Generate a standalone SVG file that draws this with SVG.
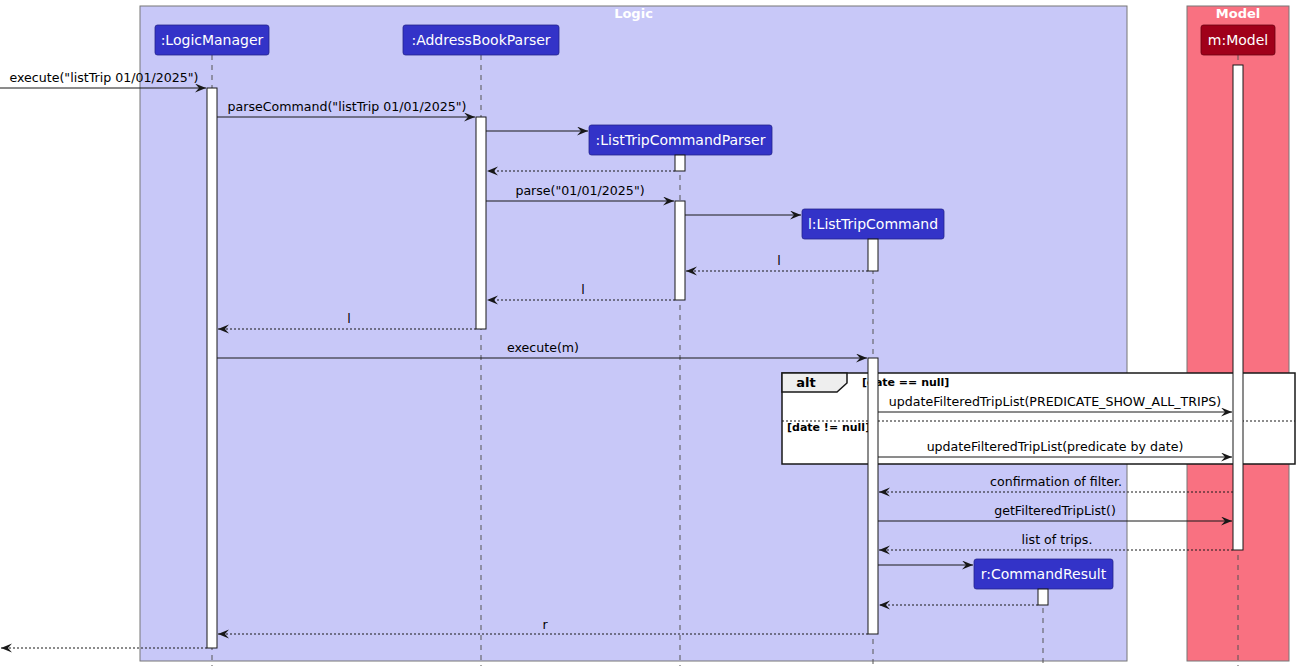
<svg xmlns="http://www.w3.org/2000/svg" width="1301" height="672" viewBox="0 0 1301 672">
<style>
text{font-family:"DejaVu Sans","Liberation Sans",sans-serif;}
.boxt{font-size:13px;font-weight:bold;fill:#ffffff;text-anchor:middle;}
.pbox{fill:#3333C8;stroke:#23238a;stroke-width:0.8;}
.ptxt{font-size:14px;fill:#ffffff;text-anchor:middle;}
.life{stroke:#555555;stroke-width:1;stroke-dasharray:5,5;fill:none;}
.act{fill:#ffffff;stroke:#181818;stroke-width:1;}
.msg{stroke:#181818;stroke-width:1;fill:none;marker-end:url(#ah);}
.ret{stroke:#181818;stroke-width:1;fill:none;stroke-dasharray:2,2;marker-end:url(#ah);}
.mt{font-size:12.6px;fill:#000000;text-anchor:middle;}
.gl{font-size:11px;font-weight:bold;fill:#000000;}
</style>
<defs>
<marker id="ah" markerUnits="userSpaceOnUse" markerWidth="12" markerHeight="10" refX="11" refY="4.5" orient="auto">
<path d="M0,0 L11,4.5 L0,9 L4,4.5 Z" fill="#181818"/>
</marker>
</defs>
<g id="box-logic">
<rect x="140" y="6" width="987" height="655" fill="#C8C8F8" stroke="#777777" stroke-width="1"/>
<text class="boxt" x="633.5" y="18">Logic</text>
</g>
<g id="box-model">
<rect x="1187" y="6" width="102" height="655" fill="#F97181" stroke="#777777" stroke-width="1"/>
<text class="boxt" x="1238" y="18">Model</text>
</g>
<g id="lifelines">
<line class="life" x1="212" y1="55" x2="212" y2="666"/>
<line class="life" x1="481" y1="55" x2="481" y2="666"/>
<line class="life" x1="680" y1="155" x2="680" y2="666"/>
<line class="life" x1="873" y1="239" x2="873" y2="666"/>
<line class="life" x1="1043" y1="588" x2="1043" y2="666"/>
<line class="life" x1="1238" y1="55" x2="1238" y2="666"/>
</g>
<g id="frame-alt">
<rect x="782" y="373" width="513" height="91" fill="#ffffff" stroke="#181818" stroke-width="1.5"/>
<path d="M782,373 L847,373 L847,383 L837,392 L782,392 Z" fill="#EEEEEE" stroke="#181818" stroke-width="1.5"/>
<text x="806" y="387" font-size="13" font-weight="bold" text-anchor="middle" fill="#000">alt</text>
<text class="gl" x="862" y="386">[date == null]</text>
<line x1="782" y1="421" x2="1295" y2="421" stroke="#181818" stroke-width="1" stroke-dasharray="2,2"/>
<text class="gl" x="787" y="431">[date != null]</text>
</g>
<g id="p-logicmanager">
<rect class="pbox" x="155" y="25" width="114" height="30" rx="2.5"/>
<text class="ptxt" x="212" y="45">:LogicManager</text>
</g>
<g id="p-addressbookparser">
<rect class="pbox" x="403" y="25" width="156" height="30" rx="2.5"/>
<text class="ptxt" x="481" y="45">:AddressBookParser</text>
</g>
<g id="p-listtripcommandparser">
<rect class="pbox" x="589" y="125" width="183" height="30" rx="2.5"/>
<text class="ptxt" x="680.5" y="145">:ListTripCommandParser</text>
</g>
<g id="p-listtripcommand">
<rect class="pbox" x="802" y="209" width="142" height="30" rx="2.5"/>
<text class="ptxt" x="873" y="229">l:ListTripCommand</text>
</g>
<g id="p-commandresult">
<rect class="pbox" x="974" y="559" width="139" height="30" rx="2.5"/>
<text class="ptxt" x="1043.5" y="579">r:CommandResult</text>
</g>
<g id="p-model">
<rect x="1201" y="25" width="74" height="30" rx="2.5" fill="#A0001A" stroke="#6a0010" stroke-width="0.8"/>
<text class="ptxt" x="1238" y="45">m:Model</text>
</g>
<g id="activations">
<rect class="act" x="207" y="88" width="10" height="560"/>
<rect class="act" x="476" y="117" width="10" height="212"/>
<rect class="act" x="675" y="155" width="10" height="16"/>
<rect class="act" x="675" y="201" width="10" height="99"/>
<rect class="act" x="868" y="239" width="10" height="32"/>
<rect class="act" x="868" y="358" width="10" height="276"/>
<rect class="act" x="1038" y="589" width="10" height="16"/>
<rect class="act" x="1233" y="65" width="10" height="485"/>
</g>
<g id="connectors">
<line class="msg" x1="0" y1="88" x2="206" y2="88"/>
<text class="mt" x="104" y="82">execute("listTrip 01/01/2025")</text>
<line class="msg" x1="217" y1="117" x2="475" y2="117"/>
<text class="mt" x="347" y="111">parseCommand("listTrip 01/01/2025")</text>
<line class="msg" x1="486" y1="131" x2="588" y2="131"/>
<line class="ret" x1="675" y1="171" x2="487" y2="171"/>
<line class="msg" x1="486" y1="201" x2="674" y2="201"/>
<text class="mt" x="580" y="195">parse("01/01/2025")</text>
<line class="msg" x1="685" y1="215" x2="801" y2="215"/>
<line class="ret" x1="868" y1="271" x2="686" y2="271"/>
<text class="mt" x="779" y="265">l</text>
<line class="ret" x1="675" y1="300" x2="487" y2="300"/>
<text class="mt" x="583" y="294">l</text>
<line class="ret" x1="476" y1="329" x2="218" y2="329"/>
<text class="mt" x="349" y="323">l</text>
<line class="msg" x1="217" y1="358" x2="867" y2="358"/>
<text class="mt" x="543" y="352">execute(m)</text>
<line class="msg" x1="878" y1="412" x2="1232" y2="412"/>
<text class="mt" x="1055" y="406">updateFilteredTripList(PREDICATE_SHOW_ALL_TRIPS)</text>
<line class="msg" x1="878" y1="457" x2="1232" y2="457"/>
<text class="mt" x="1055" y="451">updateFilteredTripList(predicate by date)</text>
<line class="ret" x1="1233" y1="492" x2="879" y2="492"/>
<text class="mt" x="1056" y="486">confirmation of filter.</text>
<line class="msg" x1="878" y1="521" x2="1232" y2="521"/>
<text class="mt" x="1055" y="515">getFilteredTripList()</text>
<line class="ret" x1="1233" y1="550" x2="879" y2="550"/>
<text class="mt" x="1057" y="544">list of trips.</text>
<line class="msg" x1="878" y1="565" x2="973" y2="565"/>
<line class="ret" x1="1038" y1="605" x2="879" y2="605"/>
<line class="ret" x1="868" y1="634" x2="218" y2="634"/>
<text class="mt" x="545" y="629">r</text>
<line class="ret" x1="207" y1="648" x2="1" y2="648"/>
</g>
</svg>
